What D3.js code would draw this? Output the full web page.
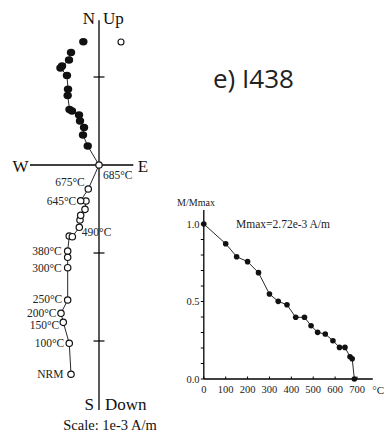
<!DOCTYPE html>
<html><head><meta charset="utf-8">
<script src="https://cdn.jsdelivr.net/npm/d3@7"></script>
<style>body{margin:0;background:#fff} svg{display:block}</style>
</head><body><svg id="c" width="385" height="439"></svg>
<script>
// Zijderveld diagram, units of 1e-3 A/m
// horizontal projection (filled): East, North
const horizE = [-0.318, -0.341, -0.420, -0.438, -0.364, -0.352, -0.356, -0.335, -0.307, -0.227, -0.216, -0.170, -0.182, -0.128, 0.0];
const horizN = [ 1.278,  1.193,  1.125,  1.102,  1.017,  0.860,  0.790,  0.631,  0.614,  0.568,  0.500,  0.426,  0.341,  0.216, 0.0];
// vertical projection (open): East, Up
const vertE  = [-0.318, -0.338, -0.406, -0.432, -0.356, -0.356, -0.356, -0.356, -0.338, -0.303, -0.224, -0.216, -0.208, -0.159, -0.148, -0.208, -0.122, 0.0];
const vertUp = [-2.378, -2.026, -1.788, -1.685, -1.534, -1.167, -1.049, -0.977, -0.807, -0.815, -0.708, -0.625, -0.572, -0.504, -0.409, -0.406, -0.273, 0.0];
// isolated points
const isoFilled = [[-0.178, 1.401]];
const isoOpen = [[0.25, 1.398]];
// step labels (index into vertical projection)
const stepLabelText  = ["NRM", "100°C", "150°C", "200°C", "250°C", "300°C", "380°C", "490°C", "645°C", "675°C", "685°C"];
const stepLabelIndex = [0, 1, 2, 3, 4, 5, 7, 10, 15, 16, 17];
const zTicks = [1, -1, -2];

// demagnetization curve
const decayT = [0, 100, 150, 200, 250, 300, 340, 380, 420, 460, 490, 520, 555, 590, 620, 645, 668, 678, 688];
const decayM = [1.0, 0.873, 0.789, 0.757, 0.686, 0.548, 0.501, 0.479, 0.398, 0.398, 0.344, 0.301, 0.290, 0.247, 0.204, 0.204, 0.144, 0.131, 0.0];
const xTickVals = [0, 100, 200, 300, 400, 500, 600, 700];
const yTickLabels = [0.0, 0.5, 1.0];

const svg = d3.select("#c");
const serif = "'Liberation Serif','Times New Roman',serif";

// ---------- Zijderveld ----------
const zx = d3.scaleLinear().domain([0, 1]).range([99, 187]);
const zy = d3.scaleLinear().domain([0, 1]).range([165, 77]);
const gz = svg.append("g");
// axes
gz.append("line").attr("x1", zx(-0.784)).attr("x2", zx(0.39)).attr("y1", zy(0)).attr("y2", zy(0))
  .attr("stroke", "#000").attr("stroke-width", 1.3);
gz.append("line").attr("x1", zx(0)).attr("x2", zx(0)).attr("y1", zy(1.645)).attr("y2", zy(-2.785))
  .attr("stroke", "#000").attr("stroke-width", 1.3);
zTicks.forEach(t => {
  gz.append("line").attr("x1", zx(0) - 5.5).attr("x2", zx(0) + 5.5).attr("y1", zy(t)).attr("y2", zy(t))
    .attr("stroke", "#000").attr("stroke-width", 1.2);
});
// axis labels
const big = (x, y, txt, anchor) => gz.append("text").attr("x", x).attr("y", y).attr("text-anchor", anchor || "start")
  .attr("font-family", serif).attr("font-size", 17).attr("fill", "#111").text(txt);
big(zx(0) - 4, 24, "N", "end");
big(zx(0) + 4, 24, "Up", "start");
big(zx(-0.784) - 1.5, 171.5, "W", "end");
big(zx(0.39) + 4.5, 171.5, "E", "start");
big(zx(0) - 5, 410, "S", "end");
big(zx(0) + 6, 410, "Down", "start");
gz.append("text").attr("x", 110).attr("y", 430).attr("text-anchor", "middle")
  .attr("font-family", serif).attr("font-size", 14.5).attr("fill", "#111").text("Scale: 1e-3 A/m");

// lines
const hPts = horizE.map((e, i) => [zx(e), zy(horizN[i])]);
const vPts = vertE.map((e, i) => [zx(e), zy(vertUp[i])]);
gz.append("path").attr("d", d3.line()(hPts)).attr("fill", "none").attr("stroke", "#111").attr("stroke-width", 0.9);
gz.append("path").attr("d", d3.line()(vPts)).attr("fill", "none").attr("stroke", "#111").attr("stroke-width", 0.9);
// filled points
gz.selectAll(".hf").data(hPts.slice(0, -1).concat(isoFilled.map(d => [zx(d[0]), zy(d[1])])))
  .enter().append("ellipse").attr("cx", d => d[0]).attr("cy", d => d[1]).attr("rx", 4.2).attr("ry", 3.7)
  .attr("fill", "#111");
// open points
gz.selectAll(".vo").data(vPts).enter().append("circle").attr("cx", d => d[0]).attr("cy", d => d[1]).attr("r", 3.2)
  .attr("fill", "#fff").attr("stroke", "#111").attr("stroke-width", 1.2);
gz.selectAll(".io").data(isoOpen).enter().append("circle").attr("cx", d => zx(d[0])).attr("cy", d => zy(d[1])).attr("r", 3)
  .attr("fill", "#fff").attr("stroke", "#111").attr("stroke-width", 1.1);
// step labels
const labelOffset = {"NRM": [-7.5, 0], "100°C": [-5, 0], "150°C": [-4, 3], "200°C": [-4.5, 0], "250°C": [-5.5, -1],
  "300°C": [-6, 0.5], "380°C": [-6, 0], "490°C": [2.5, 5], "645°C": [-4.5, 0], "675°C": [-3.5, -7.5], "685°C": [4, 9.5]};
stepLabelText.forEach((txt, k) => {
  const p = vPts[stepLabelIndex[k]];
  const off = labelOffset[txt];
  gz.append("text").attr("x", p[0] + off[0]).attr("y", p[1] + off[1] + 4)
    .attr("text-anchor", off[0] > 0 ? "start" : "end")
    .attr("font-family", serif).attr("font-size", 11.5).attr("fill", "#222").text(txt);
});

// title
svg.append("text").attr("x", 213).attr("y", 88).attr("font-family", "'Open Sans','Noto Sans',sans-serif")
  .attr("font-size", 26).attr("fill", "#222").text("e) I438");

// ---------- Decay plot ----------
const dx = d3.scaleLinear().domain([0, 700]).range([203.8, 357]);
const dy = d3.scaleLinear().domain([0, 1]).range([379, 224]);
const gd = svg.append("g");
gd.append("line").attr("x1", dx(0)).attr("x2", dx(772)).attr("y1", dy(0)).attr("y2", dy(0)).attr("stroke", "#000").attr("stroke-width", 1.3);
gd.append("line").attr("x1", dx(0)).attr("x2", dx(0)).attr("y1", dy(0)).attr("y2", dy(1.09)).attr("stroke", "#000").attr("stroke-width", 1.3);
d3.range(0, 11).forEach(i => {
  gd.append("line").attr("x1", dx(0) - 3).attr("x2", dx(0)).attr("y1", dy(i / 10)).attr("y2", dy(i / 10)).attr("stroke", "#000").attr("stroke-width", 1);
});
xTickVals.forEach(t => {
  gd.append("line").attr("x1", dx(t)).attr("x2", dx(t)).attr("y1", dy(0)).attr("y2", dy(0) - 2.5).attr("stroke", "#000").attr("stroke-width", 1);
  gd.append("text").attr("x", dx(t)).attr("y", 393).attr("text-anchor", "middle")
    .attr("font-family", serif).attr("font-size", 10.5).attr("fill", "#222").text(t);
});
gd.append("text").attr("x", 384).attr("y", 394).attr("text-anchor", "end").attr("font-family", serif).attr("font-size", 11).attr("fill", "#222").text("°C");
yTickLabels.forEach(v => {
  gd.append("text").attr("x", 199.5).attr("y", dy(v) + 3.8).attr("text-anchor", "end")
    .attr("font-family", serif).attr("font-size", 10.5).attr("fill", "#222").text(v.toFixed(1));
});
gd.append("text").attr("x", 196).attr("y", 206).attr("text-anchor", "middle")
  .attr("font-family", serif).attr("font-size", 10).attr("fill", "#222").text("M/Mmax");
gd.append("text").attr("x", 236).attr("y", 228).attr("font-family", serif).attr("font-size", 11.5).attr("fill", "#222").text("Mmax=2.72e-3 A/m");
const dPts = decayT.map((t, i) => [dx(t), dy(decayM[i])]);
gd.append("path").attr("d", d3.line()(dPts)).attr("fill", "none").attr("stroke", "#111").attr("stroke-width", 0.9);
gd.selectAll(".dp").data(dPts).enter().append("circle").attr("cx", d => d[0]).attr("cy", d => d[1]).attr("r", 2.8).attr("fill", "#111");
</script></body></html>
